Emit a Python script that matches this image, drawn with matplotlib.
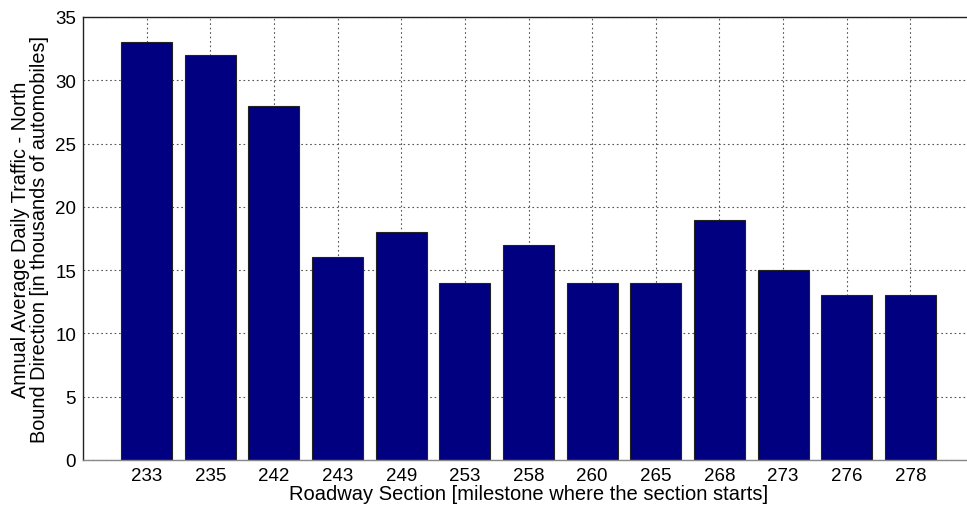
import matplotlib
matplotlib.use("Agg")
import matplotlib.pyplot as plt
import numpy as np

plt.rcParams['font.family'] = ['Liberation Sans', 'DejaVu Sans']

# roadway sections (milestone where each section starts) and traffic in thousands
sections = ["233", "235", "242", "243", "249", "253", "258",
            "260", "265", "268", "273", "276", "278"]
traffic = [33, 32, 28, 16, 18, 14, 17, 14, 14, 19, 15, 13, 13]

fig = plt.figure(figsize=(9.67, 5.10), dpi=100)
# axes run a little past the right edge of the figure
ax = fig.add_axes([83 / 967, 49 / 510, 891 / 967, 443 / 510])

pos = np.arange(1, len(sections) + 1)
ax.bar(pos, traffic, width=0.8, color="#000080", edgecolor="#222222",
       linewidth=0.8, zorder=2)

ax.set_xlim(0, len(sections) + 1)
ax.set_ylim(0, 35)
ax.set_xticks(pos)
ax.set_xticklabels(sections)
ax.set_yticks(np.arange(0, 36, 5))

ax.grid(True, linestyle=(0, (1.5, 2.5)), color="#555555", linewidth=0.8, zorder=0)
ax.set_axisbelow(True)
ax.tick_params(axis="both", labelsize=13.5, length=0, pad=5)

for s in ax.spines.values():
    s.set_linewidth(1.0)
    s.set_color("#222222")
ax.spines["bottom"].set_color("#888888")
ax.spines["right"].set_visible(False)

ax.set_xlabel("Roadway Section [milestone where the section starts]", fontsize=14.5, labelpad=0)
ax.set_ylabel("Annual Average Daily Traffic - North\nBound Direction [in thousands of automobiles]",
              fontsize=14.3, labelpad=4, linespacing=1.05)

fig.savefig("out.png", dpi=100)
